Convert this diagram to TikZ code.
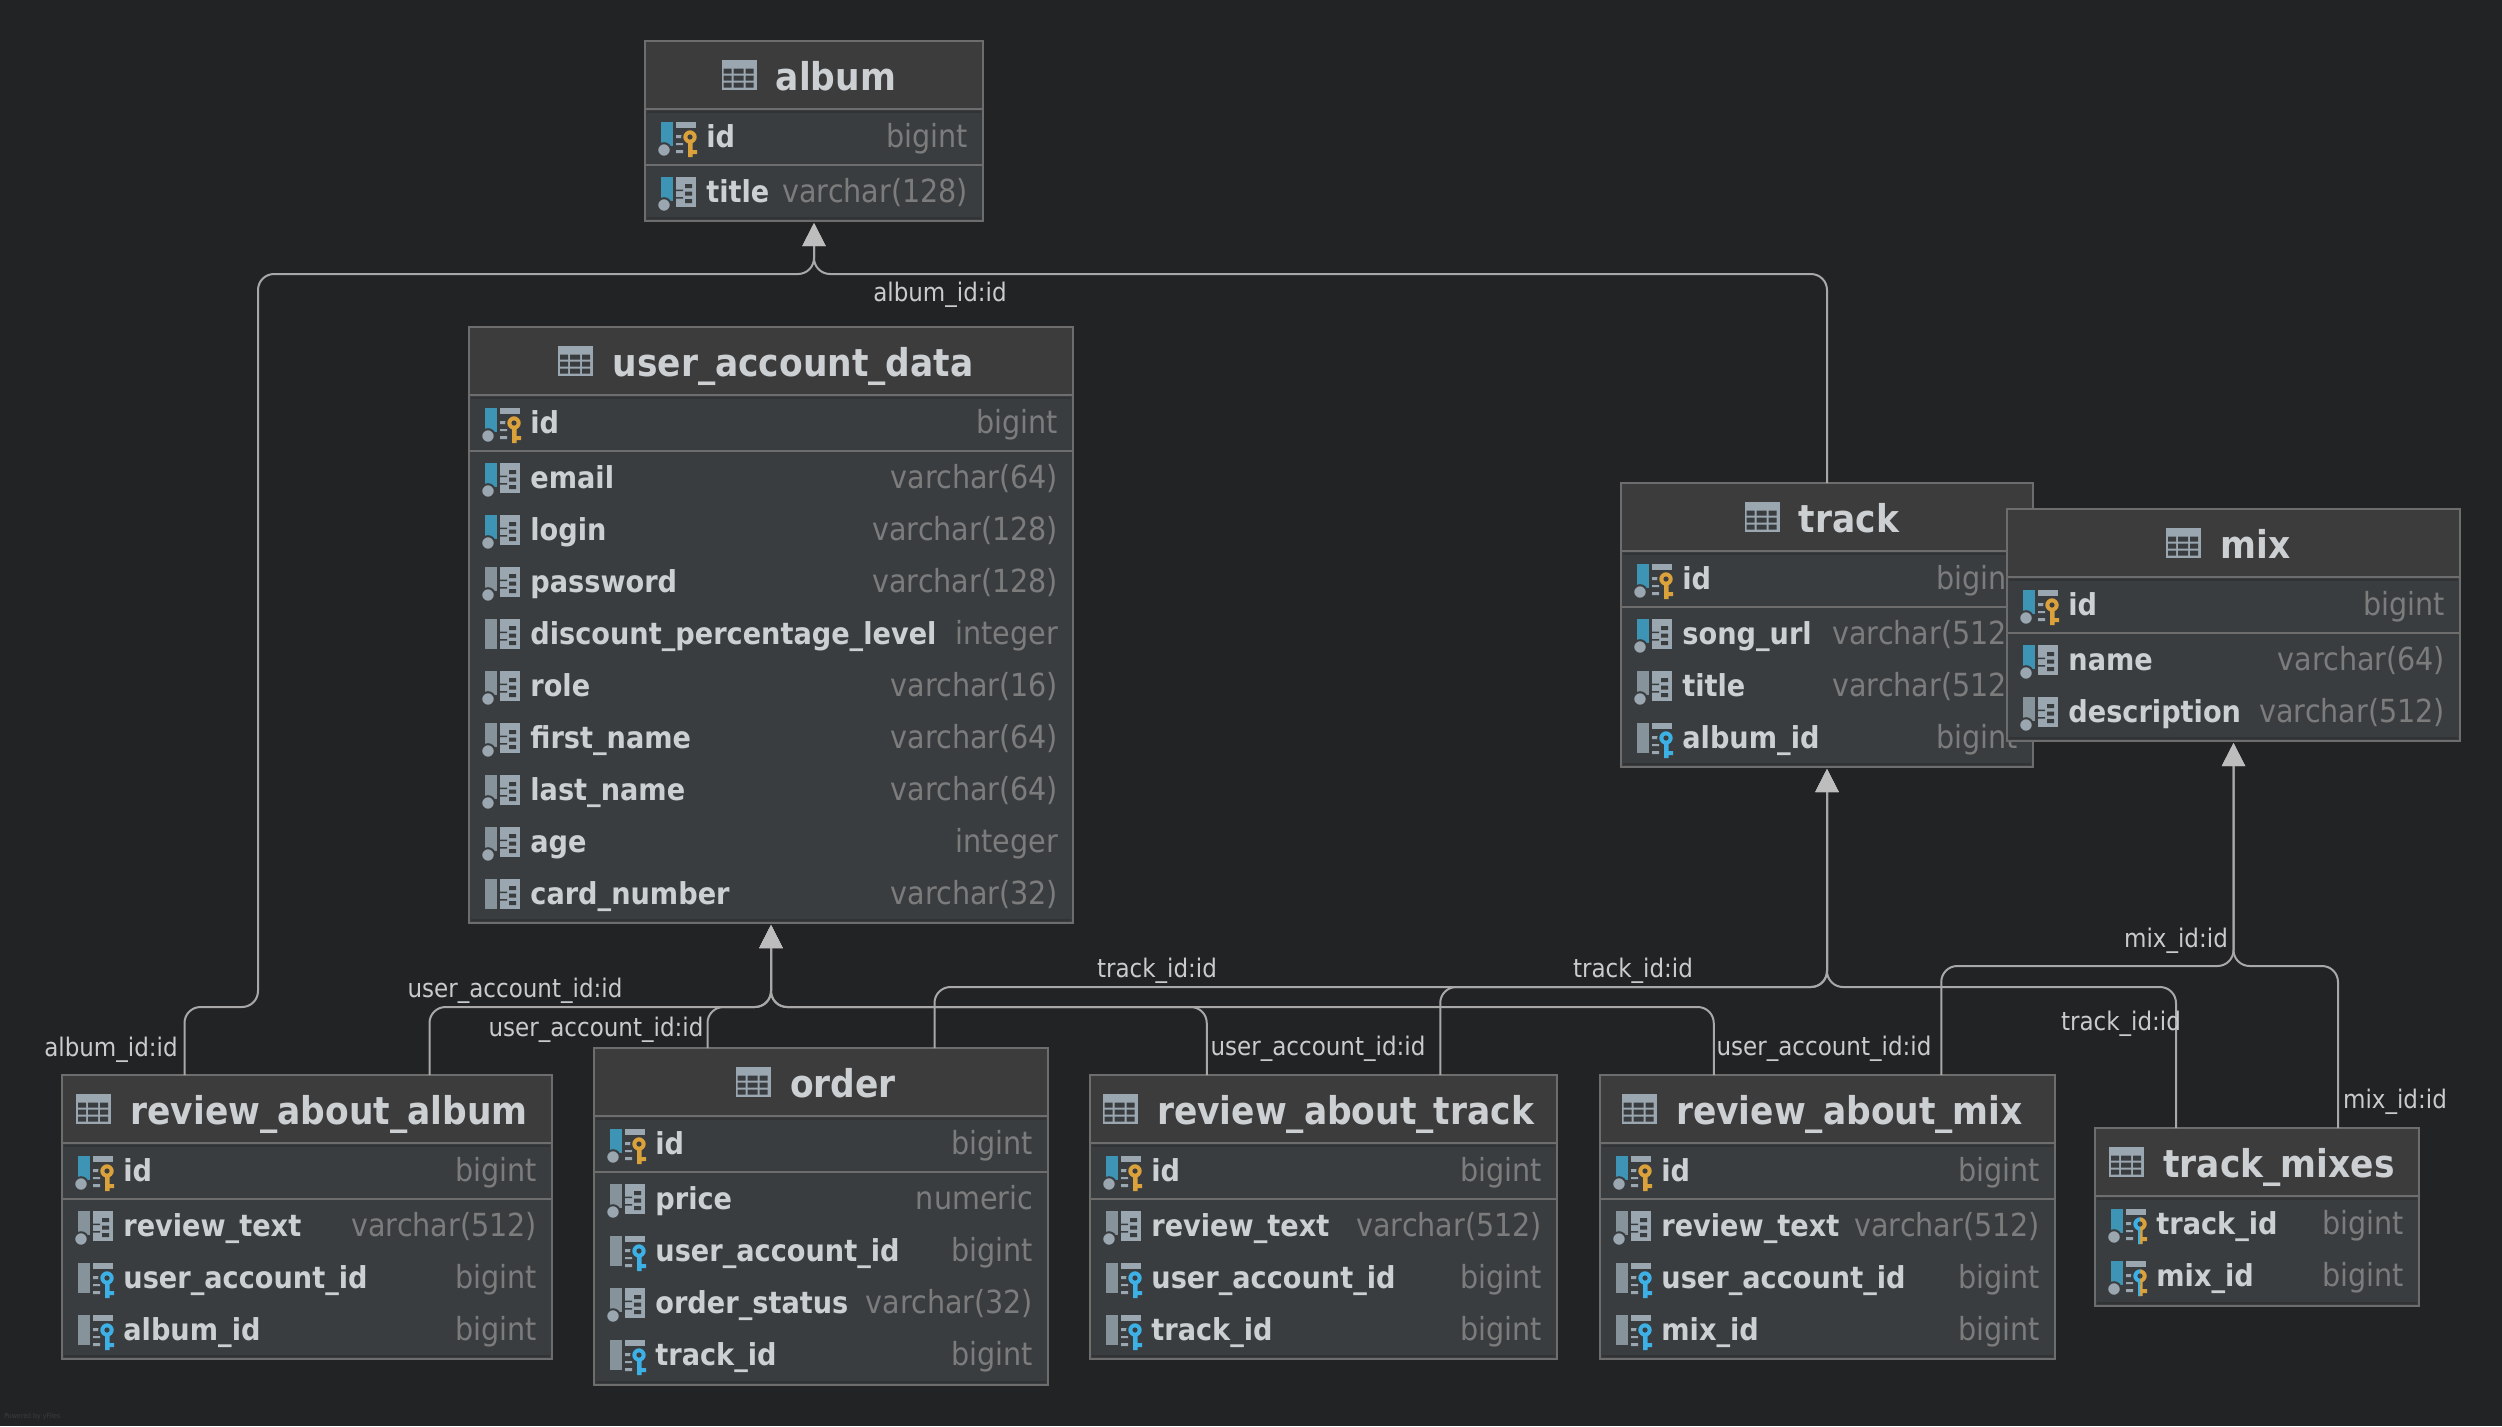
\documentclass[tikz,border=0pt]{standalone}
\usepackage{fontspec}
\setmainfont{DejaVu Sans Condensed}
\usepackage{xcolor}
\usepackage{tikz}
\usetikzlibrary{%
  arrows.meta,
  calc}
\definecolor{canvas}{HTML}{222325}
\definecolor{headfill}{HTML}{3C3C3C}
\definecolor{bodyfill}{HTML}{3A3D40}
\definecolor{bandfill}{HTML}{313335}
\definecolor{edgegray}{HTML}{6D6D6D}
\definecolor{titlegray}{HTML}{CDD0D3}
\definecolor{typegray}{HTML}{7C7C7C}
\definecolor{labelgray}{HTML}{C9CBCD}
\definecolor{linegray}{HTML}{A8A8A8}
\definecolor{tipgray}{HTML}{BDBDBD}
\definecolor{gridgray}{HTML}{9AA7B0}
\definecolor{bargray}{HTML}{87939A}
\definecolor{barblue}{HTML}{3D94B5}
\definecolor{keygold}{HTML}{DBA23B}
\definecolor{keyblue}{HTML}{3DB0E6}
%% Icon parts
\newcommand{\iconbar}[2]{\fill[#1] (16,-15) rectangle (28,#2);}
\newcommand{\icondot}{\draw[bodyfill, line width=1pt, fill=gridgray] (19,13) circle[radius=3.4pt];}
\newcommand{\icongrid}{%
  \fill[gridgray] (31,-15) rectangle (51,15);
  \fill[bodyfill] (40,-8) rectangle (47,-4) (40,-0.5) rectangle (47,3.5) (40,7) rectangle (47,11);
  \fill[bodyfill] (31,-2.5) rectangle (38,-1) (31,5) rectangle (38,6.5);}
\newcommand{\iconlines}{%
  \fill[gridgray] (31,-15) rectangle (51,-9);
  \fill[gridgray] (31,-2) rectangle (38,1) (31,6) rectangle (38,8) (31,13) rectangle (38,16);}
\newcommand{\iconkey}[1]{%
  \draw[bodyfill, line width=1pt, fill=#1] (45,0) circle[radius=3.9pt];
  \fill[#1] (43,6) rectangle (47.5,20) (47,13) rectangle (52,17);
  \fill[bodyfill] (45,0) circle[radius=1.3pt];}
\tikzset{
  %% Table parts
  tablebox/.style={
    rectangle, draw=edgegray, fill=bodyfill, line width=1.2pt,
    anchor=north west, inner sep=0pt, outer sep=0pt},
  tablehead/.style={
    rectangle, draw=edgegray, fill=headfill, line width=1.2pt,
    anchor=north west, inner sep=0pt, outer sep=0pt,
    minimum height=34pt},
  tabletitle/.style={
    anchor=base, inner sep=0pt, text=titlegray,
    font=\fontsize{19.15}{22}\selectfont\bfseries},
  colname/.style={
    anchor=base west, inner sep=0pt, text=titlegray,
    font=\fontsize{15.1}{18}\selectfont\bfseries},
  coltype/.style={
    anchor=base east, inner sep=0pt, text=typegray,
    font=\fontsize{15.9}{18}\selectfont},
  rellabel/.style={
    inner sep=0pt, text=labelgray,
    font=\fontsize{12.8}{15}\selectfont},
  rowline/.style={edgegray, line width=1.2pt},
  bandline/.style={bandfill, line width=1pt},
  %% Arrows
  relation/.style={
    -{Triangle[length=11.5pt, width=11.5pt, fill=tipgray, color=tipgray]},
    linegray, line width=1pt, rounded corners=8pt, shorten >=1pt},
  %% Icons
  tableicon/.pic={
    \fill[gridgray] (-35,-15) rectangle (0,15);
    \fill[bodyfill] (-33,-6) rectangle (-25,-1) (-23,-6) rectangle (-13,-1) (-11,-6) rectangle (-3,-1)
      (-33,1) rectangle (-25,6) (-23,1) rectangle (-13,6) (-11,1) rectangle (-3,6)
      (-33,8) rectangle (-25,13) (-23,8) rectangle (-13,13) (-11,8) rectangle (-3,13);},
  pkcol/.pic={\iconbar{barblue}{9}\icondot\iconlines\iconkey{keygold}},
  idxcol/.pic={\iconbar{barblue}{9}\icondot\icongrid},
  nullcol/.pic={\iconbar{bargray}{9}\icondot\icongrid},
  plaincol/.pic={\iconbar{bargray}{15}\icongrid},
  fkcol/.pic={\iconbar{bargray}{15}\iconlines\iconkey{keyblue}},
  bothcol/.pic={
    \iconbar{barblue}{9}\icondot\iconlines\iconkey{keygold}
    \begin{scope}
      \clip (30,-10) rectangle (45,25);
      \iconkey{keyblue}
    \end{scope}},
}
%% id, left, top, width, height, title
\newcommand{\dbtable}[6]{%
  \node[tablebox, minimum width=#4*0.5pt, minimum height=#5*0.5pt] (#1) at (#2,#3) {};
  \draw[bandline] ($(#1.south west)+(2,-3)$) -- ($(#1.south east)+(-2,-3)$);
  \node[tablehead, minimum width=#4*0.5pt] (#1_head) at (#1.north west) {};
  \draw[bandline] ($(#1.north west)+(2,71)$) -- ($(#1.north east)+(-2,71)$);
  \node[tabletitle] (#1_title) at ($(#1.north)+(22,49.5)$) {#6};
  \pic at ($(#1_title.base west)+(-19,-16)$) {tableicon};
  \coordinate (#1_l) at ($(#1.north west)!.25!(#1.north east)$);
  \coordinate (#1_r) at ($(#1.north west)!.75!(#1.north east)$);
}
%% table, column, centre line, icon, name, type
\newcommand{\dbrow}[6]{%
  \pic at ($(#1.north west)+(0,#3)$) {#4};
  \node[colname] (#1_#2) at ($(#1.north west)+(61,#3+10.5)$) {#5};
  \node[coltype] (#1_#2_type) at ($(#1.north east)+(-14.5,#3+10.5)$) {#6};
}
\newcommand{\dbsep}[1]{\draw[rowline] ($(#1.north west)+(0,124)$) -- ($(#1.north east)+(0,124)$);}

\begin{document}
\begin{tikzpicture}[x=0.5pt, y=-0.5pt]
  \fill[canvas] (0,0) rectangle (2502,1426);
  \useasboundingbox (0,0) rectangle (2502,1426);

  %% album
  \dbtable{album}{645}{41}{338}{180}{album}
  \dbsep{album}
  \dbrow{album}{id}{96}{pkcol}{id}{bigint}
  \dbrow{album}{title}{151}{idxcol}{title}{varchar(128)}

  %% user_account_data
  \dbtable{uad}{469}{327}{604}{596}{user\_account\_data}
  \dbsep{uad}
  \dbrow{uad}{id}{96}{pkcol}{id}{bigint}
  \dbrow{uad}{email}{151}{idxcol}{email}{varchar(64)}
  \dbrow{uad}{login}{203}{idxcol}{login}{varchar(128)}
  \dbrow{uad}{password}{255}{nullcol}{password}{varchar(128)}
  \dbrow{uad}{discount}{307}{plaincol}{discount\_percentage\_level}{integer}
  \dbrow{uad}{role}{359}{nullcol}{role}{varchar(16)}
  \dbrow{uad}{first}{411}{nullcol}{first\_name}{varchar(64)}
  \dbrow{uad}{last}{463}{nullcol}{last\_name}{varchar(64)}
  \dbrow{uad}{age}{515}{nullcol}{age}{integer}
  \dbrow{uad}{card}{567}{plaincol}{card\_number}{varchar(32)}

  %% track
  \dbtable{track}{1621}{483}{412}{284}{track}
  \dbsep{track}
  \dbrow{track}{id}{96}{pkcol}{id}{bigint}
  \dbrow{track}{url}{151}{idxcol}{song\_url}{varchar(512)}
  \dbrow{track}{title}{203}{nullcol}{title}{varchar(512)}
  \dbrow{track}{album}{255}{fkcol}{album\_id}{bigint}

  %% mix
  \dbtable{mix}{2007}{509}{453}{232}{mix}
  \dbsep{mix}
  \dbrow{mix}{id}{96}{pkcol}{id}{bigint}
  \dbrow{mix}{name}{151}{idxcol}{name}{varchar(64)}
  \dbrow{mix}{desc}{203}{nullcol}{description}{varchar(512)}

  %% review_about_album
  \dbtable{raa}{62}{1075}{490}{284}{review\_about\_album}
  \dbsep{raa}
  \dbrow{raa}{id}{96}{pkcol}{id}{bigint}
  \dbrow{raa}{text}{151}{nullcol}{review\_text}{varchar(512)}
  \dbrow{raa}{user}{203}{fkcol}{user\_account\_id}{bigint}
  \dbrow{raa}{album}{255}{fkcol}{album\_id}{bigint}

  %% order
  \dbtable{order}{594}{1048}{454}{337}{order}
  \dbsep{order}
  \dbrow{order}{id}{96}{pkcol}{id}{bigint}
  \dbrow{order}{price}{151}{nullcol}{price}{numeric}
  \dbrow{order}{user}{203}{fkcol}{user\_account\_id}{bigint}
  \dbrow{order}{status}{255}{nullcol}{order\_status}{varchar(32)}
  \dbrow{order}{track}{307}{fkcol}{track\_id}{bigint}

  %% review_about_track
  \dbtable{rat}{1090}{1075}{467}{284}{review\_about\_track}
  \dbsep{rat}
  \dbrow{rat}{id}{96}{pkcol}{id}{bigint}
  \dbrow{rat}{text}{151}{nullcol}{review\_text}{varchar(512)}
  \dbrow{rat}{user}{203}{fkcol}{user\_account\_id}{bigint}
  \dbrow{rat}{track}{255}{fkcol}{track\_id}{bigint}

  %% review_about_mix
  \dbtable{ram}{1600}{1075}{455}{284}{review\_about\_mix}
  \dbsep{ram}
  \dbrow{ram}{id}{96}{pkcol}{id}{bigint}
  \dbrow{ram}{text}{151}{nullcol}{review\_text}{varchar(512)}
  \dbrow{ram}{user}{203}{fkcol}{user\_account\_id}{bigint}
  \dbrow{ram}{mix}{255}{fkcol}{mix\_id}{bigint}

  %% track_mixes
  \dbtable{tm}{2095}{1128}{324}{178}{track\_mixes}
  \dbrow{tm}{track}{96}{bothcol}{track\_id}{bigint}
  \dbrow{tm}{mix}{148}{bothcol}{mix\_id}{bigint}

  %% to album
  \draw[relation] (raa_l) |- (258,1007) |- ($(album.south)+(0,53)$) -- (album.south);
  \draw[relation] (track.north) |- ($(album.south)+(0,53)$) -- (album.south);
  %% to user_account_data
  \draw[relation] (raa_r) |- ($(uad.south)+(0,84)$) -- (uad.south);
  \draw[relation] (order_l) |- ($(uad.south)+(0,84)$) -- (uad.south);
  \draw[relation] (rat_l) |- ($(uad.south)+(0,84)$) -- (uad.south);
  \draw[relation] (ram_l) |- ($(uad.south)+(0,84)$) -- (uad.south);
  %% to track
  \draw[relation] (order_r) |- ($(track.south)+(0,220)$) -- (track.south);
  \draw[relation] (rat_r) |- ($(track.south)+(0,220)$) -- (track.south);
  \draw[relation] (tm_l) |- ($(track.south)+(0,220)$) -- (track.south);
  %% to mix
  \draw[relation] (ram_r) |- ($(mix.south)+(0,225)$) -- (mix.south);
  \draw[relation] (tm_r) |- ($(mix.south)+(0,225)$) -- (mix.south);

  %% relation labels
  \node[rellabel] (lb_album_a) at (940,295) {album\_id:id};
  \node[rellabel] (lb_album_b) at (111,1049.5) {album\_id:id};
  \node[rellabel] (lb_user_a) at (515,991) {user\_account\_id:id};
  \node[rellabel] (lb_user_b) at (596,1030) {user\_account\_id:id};
  \node[rellabel] (lb_user_c) at (1318,1049) {user\_account\_id:id};
  \node[rellabel] (lb_user_d) at (1824,1049) {user\_account\_id:id};
  \node[rellabel] (lb_track_a) at (1157,971) {track\_id:id};
  \node[rellabel] (lb_track_b) at (1633,971) {track\_id:id};
  \node[rellabel] (lb_track_c) at (2121,1024) {track\_id:id};
  \node[rellabel] (lb_mix_a) at (2176,941) {mix\_id:id};
  \node[rellabel] (lb_mix_b) at (2395,1102) {mix\_id:id};

  \node[anchor=west, inner sep=0pt, text=headfill, font=\fontsize{3.5}{4}\selectfont] (yfiles) at (4,1417) {Powered by yFiles};
\end{tikzpicture}
\end{document}
